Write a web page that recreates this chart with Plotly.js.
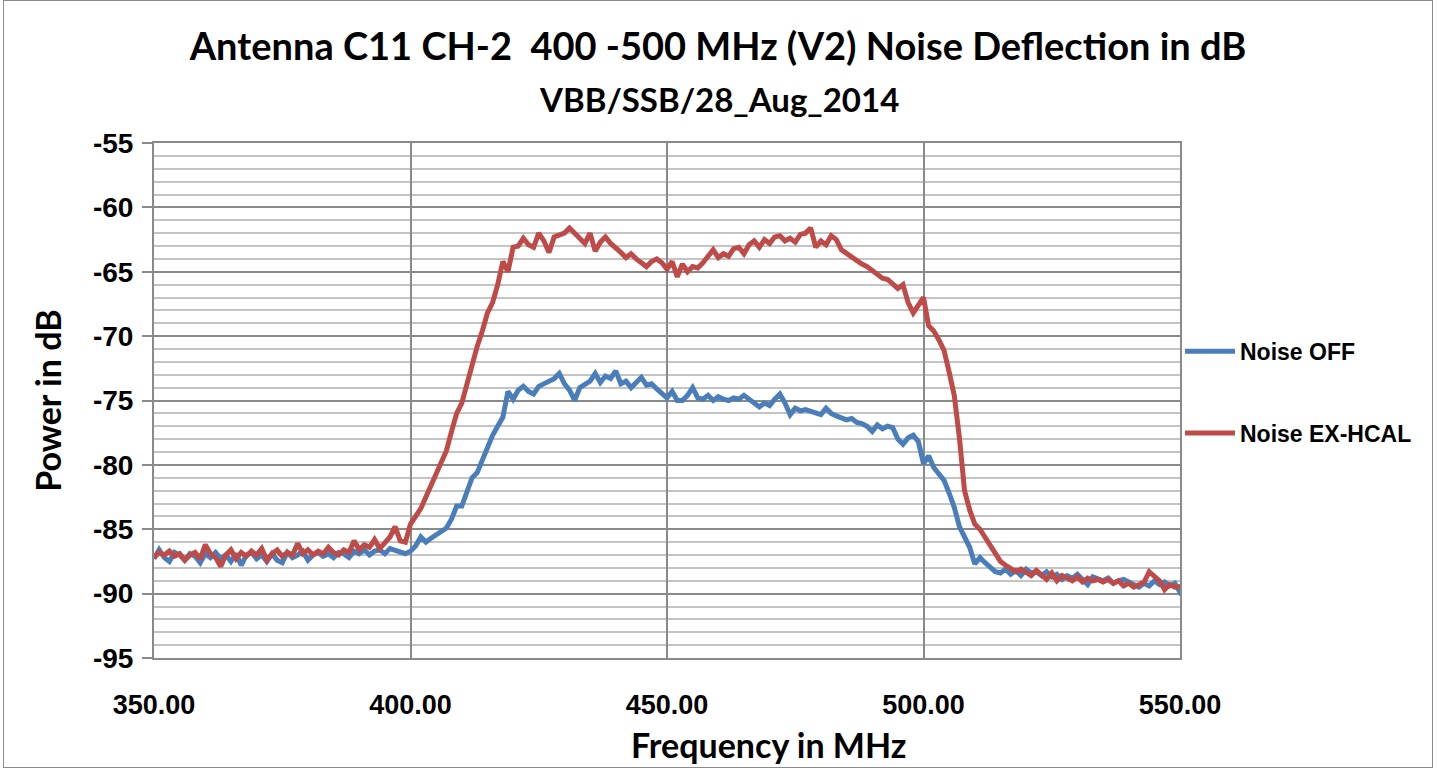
<!DOCTYPE html>
<html>
<head>
<meta charset="utf-8">
<script src="https://cdn.plot.ly/plotly-3.0.1.min.js"></script>
<style>
  html, body { margin: 0; padding: 0; background: #ffffff; }
  #chart { position: absolute; left: 3px; top: 0; width: 1428px; height: 766px; border: 1px solid #8c8c8c; }
</style>
</head>
<body>
<div id="chart"></div>
<script>
// Frequency axis (MHz), 1 MHz step
const freqStart = 350;
const freqStep = 1;

// Noise OFF (dB), one value per MHz from 350 to 550
const noiseOff = [
  -87.3,-86.6,-87.2,-87.5,-86.8,-87.0,-87.4,-86.9,-87.1,-87.6,
  -86.9,-87.2,-86.8,-87.3,-87.0,-87.5,-86.9,-87.8,-87.0,-86.8,
  -87.3,-87.0,-87.5,-86.9,-87.4,-87.6,-86.8,-87.2,-87.0,-86.7,
  -87.4,-87.0,-86.8,-87.1,-86.9,-87.2,-86.8,-86.9,-87.2,-86.7,
  -86.9,-86.6,-87.0,-86.7,-86.6,-86.9,-86.5,-86.6,-86.8,-86.9,
  -86.7,-86.3,-85.6,-86.0,-85.7,-85.4,-85.2,-84.9,-84.2,-83.2,
  -83.2,-82.0,-81.0,-80.6,-79.6,-78.6,-77.7,-77.0,-76.3,-74.3,
  -74.9,-74.2,-73.9,-74.3,-74.5,-73.9,-73.7,-73.6,-73.3,-72.9,
  -73.7,-74.2,-75.0,-74.0,-73.8,-73.5,-72.9,-73.6,-73.1,-73.3,
  -72.7,-73.7,-73.5,-74.0,-73.6,-73.2,-73.8,-73.7,-74.1,-74.4,
  -74.8,-74.3,-75.0,-75.0,-74.6,-74.0,-74.8,-74.9,-74.6,-75.0,
  -74.7,-74.9,-75.0,-74.8,-74.9,-74.6,-74.9,-75.3,-75.5,-75.2,
  -75.4,-74.9,-74.5,-75.2,-76.1,-75.6,-75.8,-75.7,-75.8,-75.9,
  -76.1,-75.6,-76.0,-76.2,-76.3,-76.5,-76.4,-76.7,-76.8,-77.0,
  -77.4,-76.9,-77.2,-77.0,-77.1,-78.0,-78.4,-77.9,-77.7,-78.2,
  -79.9,-79.3,-80.2,-80.7,-81.2,-82.2,-83.3,-84.8,-85.7,-86.4,
  -87.7,-87.2,-87.6,-88.0,-88.3,-88.4,-88.1,-88.5,-88.2,-88.6,
  -88.1,-88.4,-88.3,-88.6,-88.3,-88.7,-88.5,-88.9,-88.6,-88.8,
  -88.5,-88.9,-89.3,-88.7,-88.9,-89.0,-88.8,-89.2,-89.0,-88.9,
  -89.1,-89.3,-89.5,-89.2,-89.4,-89.0,-89.3,-89.1,-89.4,-89.2,
  -89.9,-89.6
];

// Noise EX-HCAL (dB), one value per MHz from 350 to 550
const noiseExHcal = [
  -87.2,-86.8,-87.0,-86.7,-87.1,-86.9,-87.4,-87.0,-86.8,-87.3,
  -86.2,-86.9,-87.2,-87.9,-87.0,-86.6,-87.3,-86.8,-87.1,-86.7,
  -87.0,-86.5,-87.4,-86.9,-86.6,-87.1,-86.8,-87.0,-86.1,-86.9,
  -86.6,-87.0,-86.7,-86.9,-86.4,-86.8,-87.0,-86.6,-86.8,-85.9,
  -86.6,-86.2,-86.4,-85.8,-86.5,-86.0,-85.6,-84.8,-85.9,-86.0,
  -84.6,-84.0,-83.4,-82.5,-81.6,-80.6,-79.8,-78.9,-77.4,-76.0,
  -75.2,-73.6,-72.1,-70.8,-69.6,-68.2,-67.4,-66.0,-64.2,-65.0,
  -63.1,-63.0,-62.4,-62.9,-63.1,-62.0,-62.6,-63.5,-62.3,-62.2,
  -62.0,-61.6,-62.0,-62.4,-62.8,-62.0,-63.4,-62.7,-62.3,-62.8,
  -63.1,-63.5,-63.9,-63.6,-64.0,-64.3,-64.6,-64.2,-64.0,-64.3,
  -64.8,-64.2,-65.4,-64.4,-65.0,-64.6,-64.7,-64.3,-63.8,-63.3,
  -63.9,-63.6,-63.8,-63.2,-63.1,-63.6,-62.9,-62.6,-63.1,-62.5,
  -62.8,-62.3,-62.2,-62.6,-62.4,-62.7,-62.1,-62.0,-61.6,-63.1,
  -62.6,-62.9,-62.2,-62.5,-63.3,-63.6,-63.9,-64.1,-64.4,-64.6,
  -64.9,-65.3,-65.5,-65.6,-65.9,-66.3,-66.0,-67.4,-68.2,-67.6,
  -67.0,-69.2,-69.6,-70.3,-71.1,-72.8,-74.6,-77.9,-82.0,-83.5,
  -84.6,-85.0,-85.6,-86.3,-86.9,-87.5,-87.8,-88.0,-88.3,-88.1,
  -88.3,-88.6,-88.2,-88.5,-88.9,-88.4,-89.0,-88.6,-88.8,-89.0,
  -88.7,-89.1,-88.8,-89.0,-88.9,-89.1,-88.9,-89.2,-89.0,-89.4,
  -89.2,-89.5,-89.3,-89.1,-88.3,-88.6,-89.0,-89.7,-89.3,-89.5,
  -89.4,-89.4
];

const seriesNames = ['Noise OFF', 'Noise EX-HCAL'];
const xTickVals = [350, 400, 450, 500, 550];
const xTickText = ['350.00', '400.00', '450.00', '500.00', '550.00'];
const yTickVals = [-95, -90, -85, -80, -75, -70, -65, -60, -55];
const yTickText = ['-95', '-90', '-85', '-80', '-75', '-70', '-65', '-60', '-55'];

const freqs = noiseOff.map((_, i) => freqStart + i * freqStep);

const titleFont = 'Lato, "Open Sans", sans-serif';
const labelFont = '"Liberation Sans", Arial, sans-serif';

const traces = [
  { x: freqs, y: noiseOff, name: seriesNames[0], type: 'scatter', mode: 'lines',
    line: { color: '#4A7EBB', width: 5 }, legendgroup: 'a' },
  { x: freqs, y: noiseExHcal, name: seriesNames[1], type: 'scatter', mode: 'lines',
    line: { color: '#BE4B48', width: 5 }, legendgroup: 'b' }
];

const layout = {
  width: 1428, height: 766,
  paper_bgcolor: '#ffffff', plot_bgcolor: '#ffffff',
  margin: { l: 150, r: 252, t: 142, b: 109 },
  title: {
    text: 'Antenna C11 CH-2  400 -500 MHz (V2) Noise Deflection in dB',
    font: { family: titleFont, size: 38, color: '#000000', weight: 'bold' },
    x: 0.5, xref: 'container', xanchor: 'center',
    y: 0.94, yref: 'container', yanchor: 'middle'
  },
  annotations: [
    { text: 'VBB/SSB/28_Aug_2014', showarrow: false,
      xref: 'paper', yref: 'paper', x: 0.551, y: 1.085, xanchor: 'center', yanchor: 'middle',
      font: { family: titleFont, size: 33, color: '#000000', weight: 'bold' } },
    { text: 'Frequency in MHz', showarrow: false,
      xref: 'paper', yref: 'paper', x: 0.599, y: -0.168, xanchor: 'center', yanchor: 'middle',
      font: { family: titleFont, size: 34, color: '#000000', weight: 'bold' } },
    { text: 'Power in dB', showarrow: false, textangle: -90,
      xref: 'paper', yref: 'paper', x: -0.104, y: 0.5, xanchor: 'center', yanchor: 'middle',
      font: { family: titleFont, size: 34, color: '#000000', weight: 'bold' } }
  ],
  xaxis: {
    range: [350, 550], tickvals: xTickVals, ticktext: xTickText,
    showgrid: true, gridcolor: '#8a8a8a', gridwidth: 2,
    showline: true, linecolor: '#8a8a8a', linewidth: 2, mirror: true,
    zeroline: false, ticks: '', ticklabelstandoff: 22,
    tickfont: { family: labelFont, size: 27, color: '#000000', weight: 'bold' }
  },
  yaxis: {
    range: [-95, -55], tickvals: yTickVals, ticktext: yTickText,
    showgrid: true, gridcolor: '#8a8a8a', gridwidth: 2,
    minor: { dtick: 1, tick0: -95, showgrid: true, gridcolor: '#c4c4c4', gridwidth: 2 },
    showline: true, linecolor: '#8a8a8a', linewidth: 2, mirror: true,
    zeroline: false, ticks: 'outside', ticklen: 10, tickwidth: 2, tickcolor: '#8a8a8a',
    ticklabelstandoff: 3,
    tickfont: { family: labelFont, size: 28, color: '#000000', weight: 'bold' }
  },
  showlegend: true,
  legend: {
    x: 1.0, xanchor: 'left', y: 0.516, yanchor: 'middle',
    font: { family: labelFont, size: 23, color: '#000000', weight: 'bold' },
    tracegroupgap: 49, itemwidth: 50, bgcolor: 'rgba(0,0,0,0)'
  }
};

Plotly.newPlot('chart', traces, layout, { displayModeBar: false, staticPlot: true });
</script>
</body>
</html>
